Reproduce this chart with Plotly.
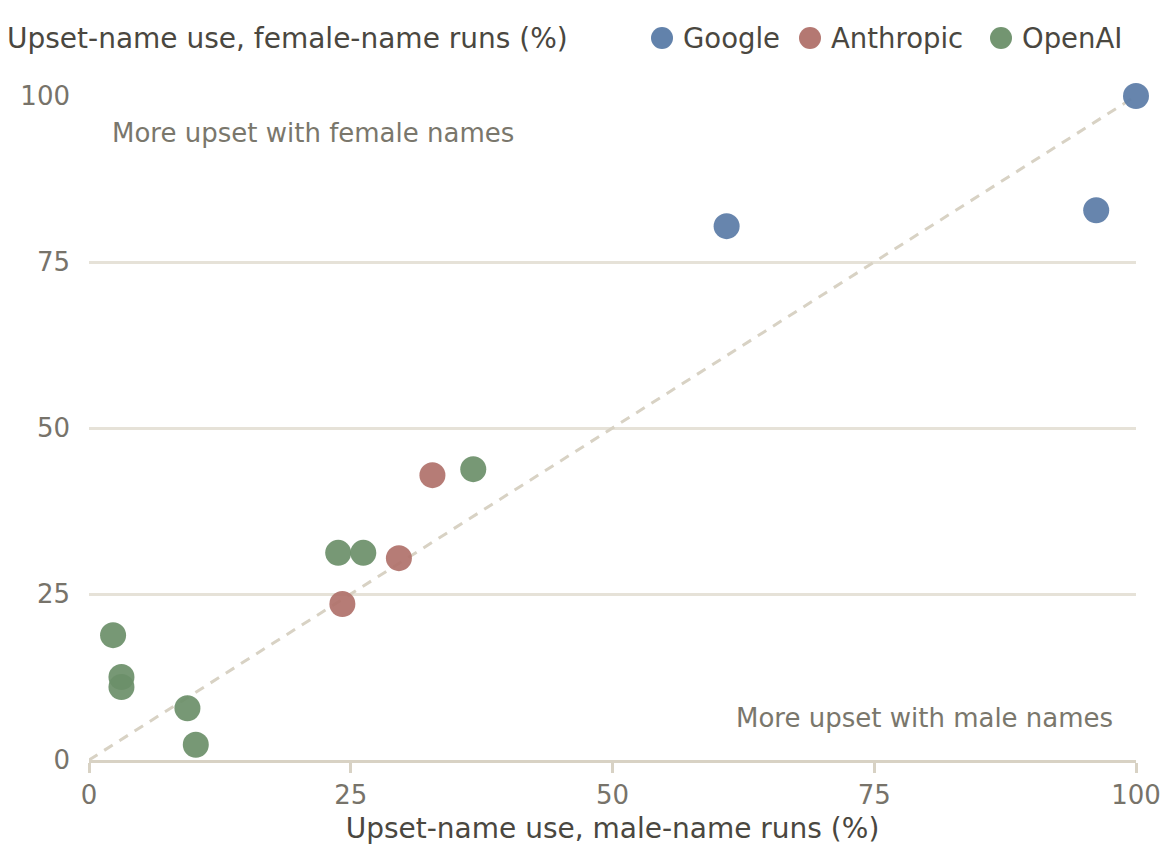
import plotly.graph_objects as go

google_x = [100.0, 60.9, 96.2]
google_y = [100.0, 80.4, 82.8]
anthropic_x = [32.8, 29.6, 24.2]
anthropic_y = [42.9, 30.4, 23.5]
openai_x = [36.7, 23.8, 26.2, 2.3, 3.1, 3.1, 9.4, 10.2]
openai_y = [43.8, 31.2, 31.2, 18.8, 12.5, 11.0, 7.8, 2.3]
tick_vals = [0, 25, 50, 75, 100]
series_names = ["Google", "Anthropic", "OpenAI"]
series_colors = ["#5a7ba6", "#b0716a", "#6b8f69"]

FONT = "DejaVu Sans"
L, R, T, B = 89, 24, 96, 100
W, H = 1160, 860
PW, PH = W - L - R, H - T - B


def px_x(p):
    return (p - L) / PW


def px_y(p):
    return (H - B - p) / PH


fig = go.Figure()
fig.add_trace(go.Scatter(x=[0, 100], y=[0, 100], mode="lines",
                         line=dict(color="#d8d2c4", width=3, dash="10px,8px"),
                         showlegend=False, hoverinfo="skip"))
for name, xs, ys, col in zip(series_names, [google_x, anthropic_x, openai_x],
                             [google_y, anthropic_y, openai_y], series_colors):
    fig.add_trace(go.Scatter(x=xs, y=ys, mode="markers", name=name, showlegend=False,
                             marker=dict(size=26, color=col, opacity=0.92, line=dict(width=0)),
                             cliponaxis=False))

# custom legend (large circle keys)
legend_circle_px = [662, 810, 1001]
shapes = []
annotations = []
for name, col, cx in zip(series_names, series_colors, legend_circle_px):
    shapes.append(dict(type="circle", xref="paper", yref="paper",
                       xsizemode="pixel", ysizemode="pixel",
                       xanchor=px_x(cx), yanchor=px_y(38),
                       x0=-11, x1=11, y0=-11, y1=11,
                       fillcolor=col, opacity=0.95, line=dict(width=0)))
    annotations.append(dict(text=name, xref="paper", yref="paper",
                            x=px_x(cx + 19), y=px_y(38), xanchor="left", yanchor="middle",
                            showarrow=False, font=dict(size=27.5, color="#4a4740")))

annotations += [
    dict(text="Upset-name use, female-name runs (%)", xref="paper", yref="paper",
         x=px_x(5), y=px_y(38), xanchor="left", yanchor="middle", showarrow=False,
         font=dict(size=28, color="#4a4740")),
    dict(text="More upset with female names", xref="x", yref="y", x=2, y=94.4,
         xanchor="left", yanchor="middle", showarrow=False,
         font=dict(size=26, color="#7a776c")),
    dict(text="More upset with male names", xref="x", yref="y", x=98, y=6.3,
         xanchor="right", yanchor="middle", showarrow=False,
         font=dict(size=26, color="#7a776c")),
]

fig.update_layout(
    width=W, height=H,
    margin=dict(l=L, r=R, t=T, b=B, autoexpand=False),
    paper_bgcolor="white", plot_bgcolor="white",
    font=dict(family=FONT, size=26, color="#77736a"),
    showlegend=False,
    xaxis=dict(range=[0, 100], tickvals=tick_vals, showgrid=False, zeroline=False,
               automargin=False, ticklabeloverflow="allow",
               showline=True, linecolor="#d8d2c4", linewidth=2.5,
               ticks="outside", ticklen=10, tickwidth=2.5, tickcolor="#d8d2c4",
               tickfont=dict(size=26, color="#77736a"),
               title=dict(text="Upset-name use, male-name runs (%)",
                          font=dict(size=28, color="#4a4740"), standoff=10)),
    yaxis=dict(range=[0, 100], tickvals=tick_vals, showgrid=True, gridcolor="#e6e2d8",
               automargin=False, ticklabeloverflow="allow",
               gridwidth=2.5, zeroline=False, showline=False, ticks="", ticklabelstandoff=18,
               tickfont=dict(size=26, color="#77736a")),
    shapes=shapes,
    annotations=annotations,
)
fig.write_html("out.html")
